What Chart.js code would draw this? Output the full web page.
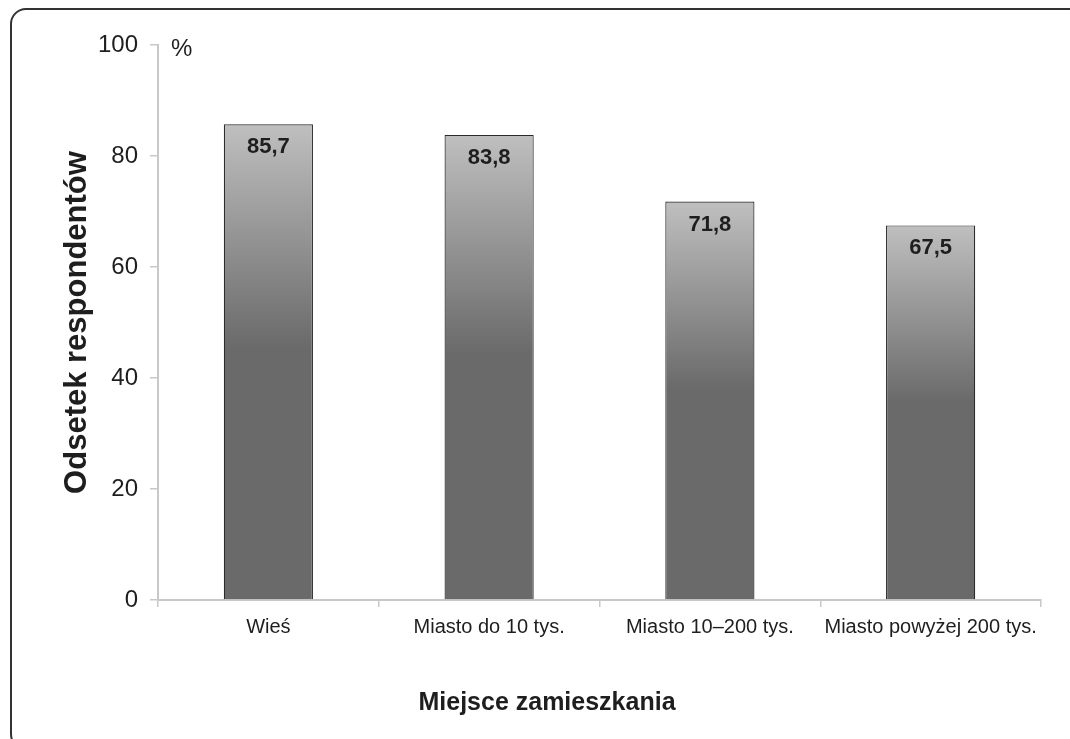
<!DOCTYPE html>
<html>
  <head>
    <meta charset="utf-8" />
    <style>
      html, body { margin: 0; padding: 0; background: #ffffff; overflow: hidden; }
      #wrap { position: relative; width: 1070px; height: 739px; overflow: hidden; }
      #frame {
        position: absolute; left: 10px; top: 8px; width: 1100px; height: 742px;
        border: 2px solid #333333; border-radius: 16px; box-sizing: border-box;
      }
      canvas { position: absolute; left: 0; top: 0; }
    </style>
  </head>
  <body>
    <div id="wrap">
      <div id="frame"></div>
      <canvas id="myChart" width="1070" height="739"></canvas>
    </div>

    <script src="https://cdn.jsdelivr.net/npm/chart.js"></script>

    <script>
      var categories = ["Wieś", "Miasto do 10 tys.", "Miasto 10–200 tys.", "Miasto powyżej 200 tys."];
      var values = [85.7, 83.8, 71.8, 67.5];
      var valueLabels = ["85,7", "83,8", "71,8", "67,5"];
      var yTicks = [0, 20, 40, 60, 80, 100];
      var yTitle = "Odsetek respondentów";
      var xTitle = "Miejsce zamieszkania";
      var unitLabel = "%";

      var FONT = "'Liberation Sans', Arial, sans-serif";

      function barGradient(context) {
        var chart = context.chart;
        if (!chart.chartArea || !chart.scales.y) {
          return "#6a6a6a";
        }
        var y = chart.scales.y;
        var top = y.getPixelForValue(values[context.dataIndex]);
        var bottom = y.getPixelForValue(0);
        var g = chart.ctx.createLinearGradient(0, top, 0, bottom);
        g.addColorStop(0, "#bfbfbf");
        g.addColorStop(0.47, "#6a6a6a");
        g.addColorStop(1, "#6a6a6a");
        return g;
      }

      // texts that are not plain axis labels
      var textPlugin = {
        id: "texts",
        afterDatasetsDraw(chart) {
          var ctx = chart.ctx;
          var meta = chart.getDatasetMeta(0);
          ctx.save();
          ctx.fillStyle = "#1e1e1e";
          ctx.textAlign = "center";
          ctx.textBaseline = "middle";
          ctx.font = "bold 22px " + FONT;
          meta.data.forEach(function (bar, i) {
            ctx.fillText(valueLabels[i], bar.x, bar.y + 23);
          });

          ctx.font = "24px " + FONT;
          ctx.textAlign = "left";
          ctx.fillText(unitLabel, chart.chartArea.left + 13, chart.chartArea.top + 4);

          ctx.font = "bold 25px " + FONT;
          ctx.textAlign = "center";
          ctx.fillText(xTitle, 547, 703);

          ctx.translate(77, (chart.chartArea.top + chart.chartArea.bottom) / 2);
          ctx.rotate(-Math.PI / 2);
          ctx.font = "bold 31px " + FONT;
          ctx.fillText(yTitle, 0, 0);
          ctx.restore();
        },
      };

      var config = {
        type: "bar",
        data: {
          labels: categories,
          datasets: [
            {
              data: values,
              backgroundColor: barGradient,
              borderColor: "#2a2a2a",
              borderWidth: 1.2,
              categoryPercentage: 1,
              barPercentage: 0.404,
            },
          ],
        },
        options: {
          responsive: false,
          animation: false,
          events: [],
          layout: { padding: { top: 45, right: 29, bottom: 0, left: 0 } },
          plugins: {
            legend: { display: false },
            tooltip: { enabled: false },
          },
          scales: {
            x: {
              offset: true,
              grid: {
                offset: true,
                drawOnChartArea: false,
                drawTicks: true,
                tickLength: 7,
                color: "#c8c8c8",
                lineWidth: 1.5,
              },
              border: { color: "#c8c8c8", width: 2 },
              ticks: {
                color: "#1e1e1e",
                font: { family: FONT, size: 20 },
                padding: 8,
                maxRotation: 0,
                autoSkip: false,
              },
              afterFit: function (scale) {
                scale.height = 139;
              },
            },
            y: {
              min: 0,
              max: 100,
              afterBuildTicks: function (scale) {
                scale.ticks = yTicks.map(function (v) { return { value: v }; });
              },
              grid: {
                drawOnChartArea: false,
                drawTicks: true,
                tickLength: 8,
                color: "#c8c8c8",
                lineWidth: 1.5,
              },
              border: { color: "#c8c8c8", width: 2 },
              ticks: {
                color: "#1e1e1e",
                font: { family: FONT, size: 24 },
                padding: 12,
              },
              afterFit: function (scale) {
                scale.width = 158;
              },
            },
          },
        },
        plugins: [textPlugin],
      };

      const myChart = new Chart(document.getElementById("myChart"), config);
    </script>
  </body>
</html>
